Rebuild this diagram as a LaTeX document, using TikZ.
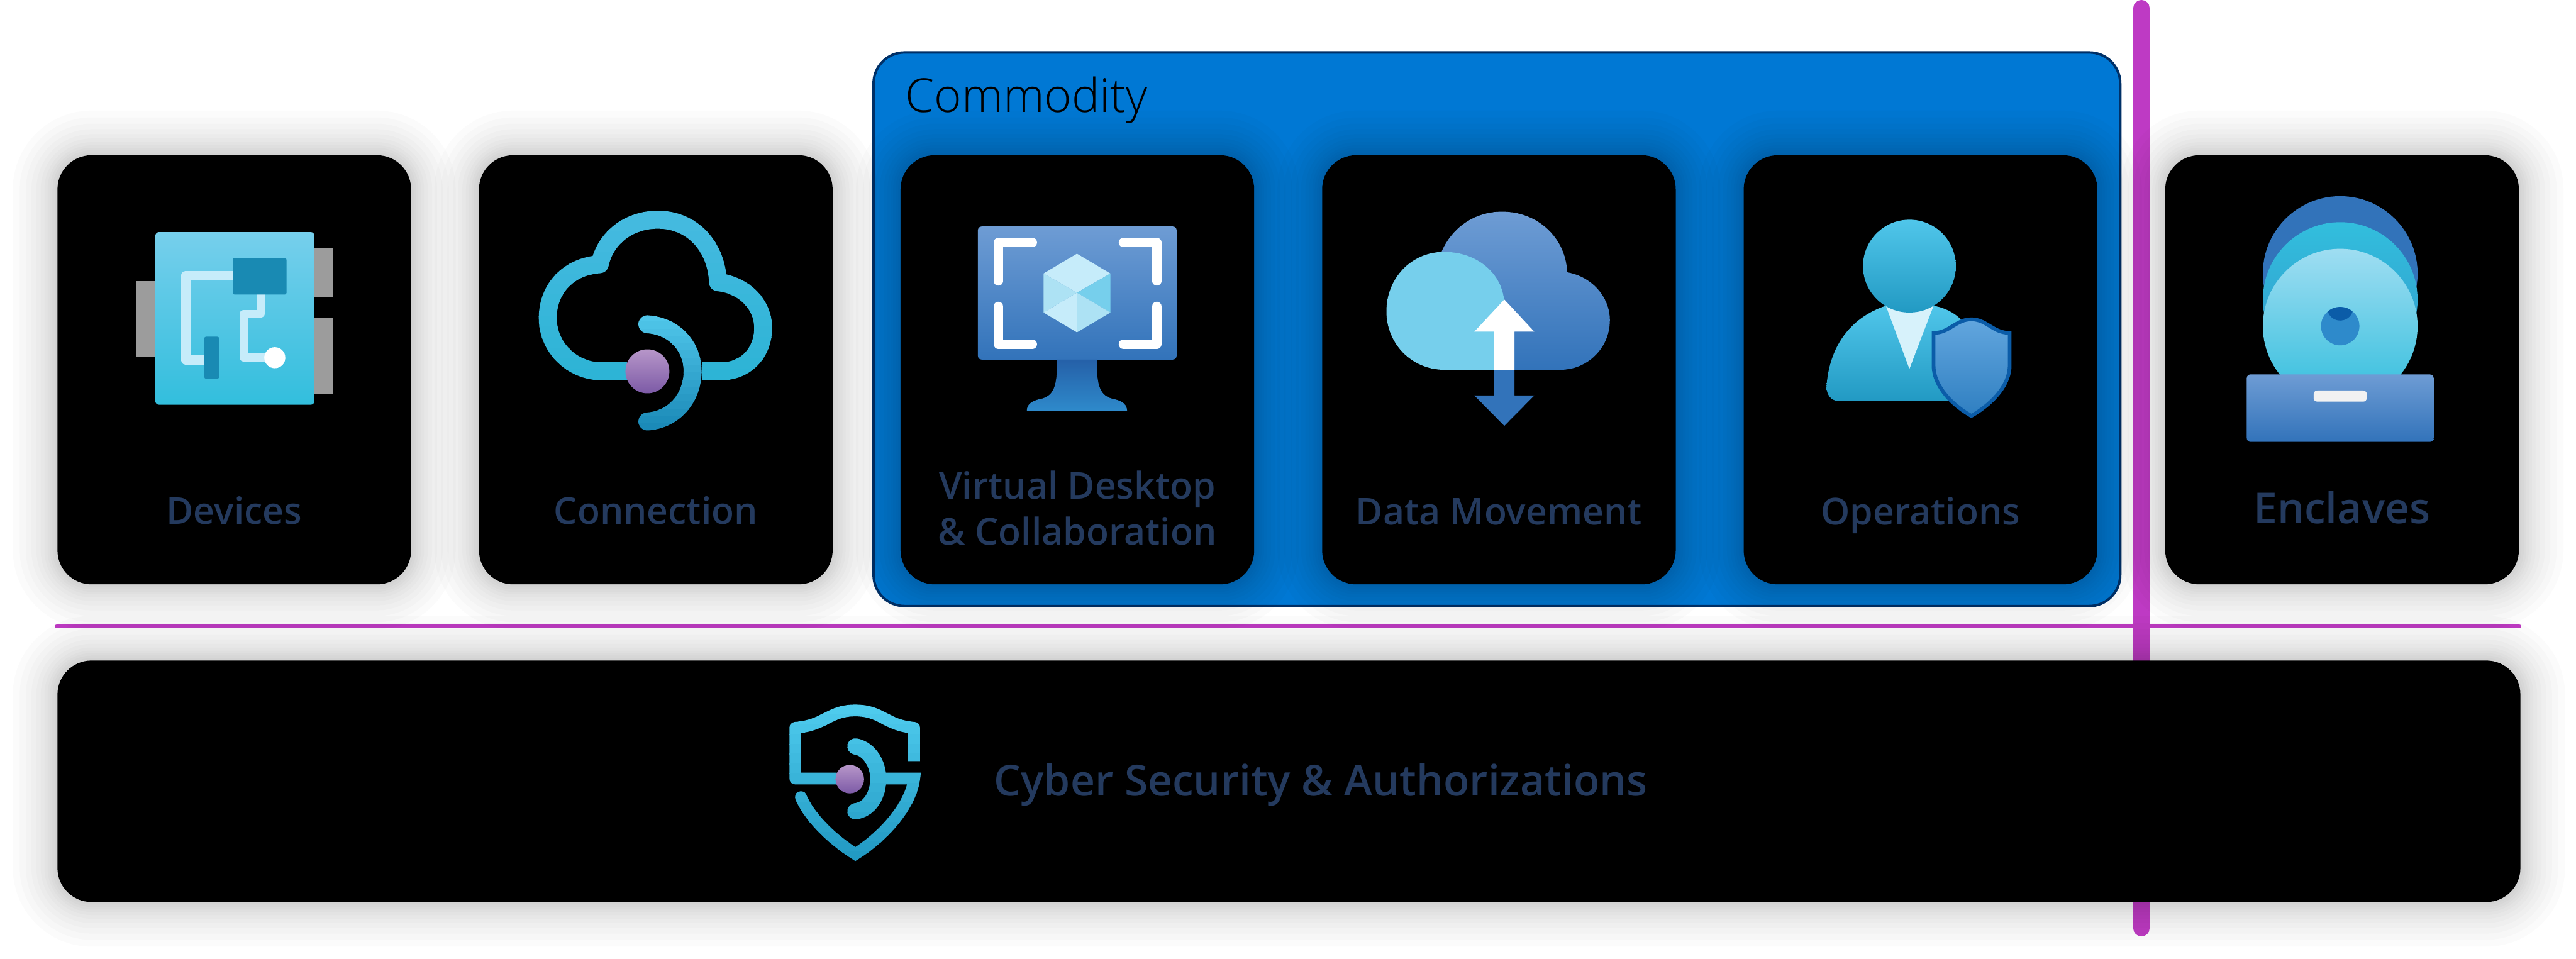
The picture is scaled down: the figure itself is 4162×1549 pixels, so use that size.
\documentclass[tikz,border=0pt]{standalone}
\usepackage{xcolor}
\usepackage{fontspec}
\usepackage{tikz}
\usetikzlibrary{positioning, calc, backgrounds}
\setmainfont{Open Sans}
\newfontfamily\heavyfont{Open Sans Semibold}
\newfontfamily\thinfont{Open Sans Light}
\definecolor{mynavy}{RGB}{36,58,94}
\definecolor{myblue}{RGB}{0,120,212}
\definecolor{myedge}{RGB}{0,48,103}
\definecolor{mymagenta}{RGB}{190,58,196}
\definecolor{mygray}{RGB}{156,156,156}
\definecolor{skytop}{RGB}{118,207,236}
\definecolor{skybot}{RGB}{50,190,221}
\definecolor{tealdark}{RGB}{25,138,179}
\definecolor{tracelt}{RGB}{198,236,250}
\definecolor{steeltop}{RGB}{110,156,212}
\definecolor{steelbot}{RGB}{50,115,186}
\definecolor{neckdark}{RGB}{37,96,168}
\definecolor{neckbot}{RGB}{46,138,203}
\definecolor{ringtop}{RGB}{80,198,234}
\definecolor{ringbot}{RGB}{27,138,184}
\definecolor{shieldlt}{RGB}{90,208,244}
\definecolor{balltop}{RGB}{183,150,201}
\definecolor{ballbot}{RGB}{124,90,166}
\definecolor{shieldtop}{RGB}{98,166,222}
\definecolor{shieldbot}{RGB}{47,127,193}
\definecolor{shieldedge}{RGB}{11,92,168}
\tikzset{
  tile/.style={rectangle, fill=black, inner sep=0pt, outer sep=0pt,
    minimum width=5.71cm, minimum height=6.93cm, rounded corners=0.55cm},
  bar/.style={rectangle, fill=black, inner sep=0pt, outer sep=0pt,
    minimum width=39.77cm, minimum height=3.9cm, rounded corners=0.55cm},
  groupbox/.style={rectangle, draw=myedge, fill=myblue, inner sep=0pt, outer sep=0pt,
    minimum width=20.13cm, minimum height=8.94cm, rounded corners=0.5cm, line width=0.04cm},
  tilelabel/.style={anchor=base, align=center, text=mynavy, inner sep=0pt,
    font=\heavyfont\fontsize{17}{21.2}\selectfont},
  biglabel/.style={anchor=base, text=mynavy, inner sep=0pt, font=\heavyfont\fontsize{19.6}{24}\selectfont},
  grouplabel/.style={anchor=base west, text=black, inner sep=0pt, font=\thinfont\fontsize{21.5}{26}\selectfont},
  shadowline/.style={draw=black, opacity=0.016, rounded corners=0.55cm},
  rule/.style={color=mymagenta, line cap=round},
  ball/.style={circle, top color=balltop, bottom color=ballbot, draw=none}
}
\newcommand{\gradstroke}[6]{%
  \foreach \i in {0,...,15}{%
    \pgfmathsetmacro{\ya}{#1+(#2-#1)*\i/16}%
    \pgfmathsetmacro{\yb}{#1+(#2-#1)*(\i+1)/16+1}%
    \pgfmathtruncatemacro{\mixval}{100-100*\i/15}%
    \begin{scope}
      \clip (0,\ya) rectangle (4162,\yb);
      \draw[color=#3!\mixval!#4, line width=#5, line join=round] #6;
    \end{scope}
  }%
}

\begin{document}
\begin{tikzpicture}[x=0.01cm, y=-0.01cm, node distance=1.097cm]
  \useasboundingbox (0,0) rectangle (4162,1549);

  \node[tile] (devices) at (378.5,597.5) {};
  \node[tile, right=of devices] (connection) {};
  \node[tile, right=of connection] (desktop) {};
  \node[tile, right=of desktop] (movement) {};
  \node[tile, right=of movement] (operations) {};
  \node[tile, right=of operations] (enclaves) {};
  \node[bar, below=1.23cm of devices.south west, anchor=north west] (security) {};

  \coordinate (vtop) at (3460,13);
  \coordinate (vbot) at (3460,1500);
  \coordinate (hleft) at (92,1012);
  \coordinate (hright) at (4070,1012);

  \begin{scope}[on background layer]
    \fill[white] (0,0) rectangle (4162,1549);
    \draw[rule, line width=0.26cm] (vtop) -- (vbot);
    \draw[rule, line width=0.07cm] (hleft) -- (hright);
    \node[groupbox] (commodity) at (2418.5,532) {};
    \foreach \n in {devices,connection,desktop,movement,operations,enclaves,security}{
      \foreach \w in {0.08,0.16,0.24,0.32,0.42,0.54,0.68,0.84,1.02,1.22,1.44}{
        \draw[shadowline, line width=\w cm] (\n.north west) rectangle (\n.south east);
      }
    }
  \end{scope}

  \node[grouplabel] (commoditylabel) at (1462,181) {Commodity};
  \node[tilelabel] (deviceslabel) at ($(devices.south)+(0,-97)$) {Devices};
  \node[tilelabel] (connectionlabel) at ($(connection.south)+(0,-97)$) {Connection};
  \node[tilelabel, anchor=center] (desktoplabel) at ($(desktop.south)+(0,-123)$) {Virtual Desktop\\\& Collaboration};
  \node[tilelabel] (movementlabel) at ($(movement.south)+(0,-96)$) {Data Movement};
  \node[tilelabel] (operationslabel) at ($(operations.south)+(0,-96)$) {Operations};
  \node[biglabel] (enclaveslabel) at ($(enclaves.south)+(0,-98)$) {Enclaves};
  \node[biglabel] (securitylabel) at (2134,1286) {Cyber Security \& Authorizations};

  \fill[mygray] (221,454) rectangle (252,576);
  \fill[mygray] (507,401) rectangle (538,481);
  \fill[mygray] (507,514) rectangle (538,637);
  \shade[top color=skytop, bottom color=skybot, rounded corners=0.06cm] (251,375) rectangle (508,654);
  \draw[tracelt, line width=0.15cm, line join=round] (380,445) -- (300,445) -- (300,582) -- (335,582);
  \draw[tracelt, line width=0.13cm, line join=round] (421,470) -- (421,507) -- (394,507) -- (394,578) -- (444,578);
  \fill[tealdark, rounded corners=0.03cm] (376,417) rectangle (463,476);
  \fill[tealdark, rounded corners=0.03cm] (330,544) rectangle (354,612);
  \fill[white] (444,578) circle (17);

  \gradstroke{339}{614}{ringtop}{skybot!80!ringbot}{0.29cm}{(1135,600) -- (1165,600) .. controls (1205,600) and (1233,570) .. (1233,530) .. controls (1233,490) and (1200,460) .. (1160,456) .. controls (1158,400) and (1120,355) .. (1063,355) .. controls (1015,355) and (978,385) .. (969,427) .. controls (920,430) and (885,465) .. (885,514) .. controls (885,562) and (925,600) .. (972,600) -- (1013,600)}
  \gradstroke{508}{696}{ringtop}{ringbot}{0.29cm}{[line cap=round] (1046,524) .. controls (1090,527) and (1119,560) .. (1119,600) .. controls (1119,642) and (1090,678) .. (1046,681)}
  \node[ball, minimum size=0.71cm] (connectionball) at (1046,600) {};

  \shade[top color=steeltop, bottom color=steelbot, rounded corners=0.06cm] (1580,366) rectangle (1901,581);
  \shade[top color=neckdark, bottom color=neckbot] (1708,581) .. controls (1708,625) and (1703,640) .. (1680,645) .. controls (1665,648) and (1659,655) .. (1659,664) -- (1821,664) .. controls (1821,655) and (1815,648) .. (1800,645) .. controls (1777,640) and (1772,625) .. (1772,581) -- cycle;
  \draw[white, line width=0.15cm, line cap=round, line join=round] (1668,392) -- (1613,392) -- (1613,454);
  \draw[white, line width=0.15cm, line cap=round, line join=round] (1815,392) -- (1869,392) -- (1869,454);
  \draw[white, line width=0.15cm, line cap=round, line join=round] (1668,556) -- (1613,556) -- (1613,495);
  \draw[white, line width=0.15cm, line cap=round, line join=round] (1815,556) -- (1869,556) -- (1869,495);
  \fill[tracelt] (1740,410) -- (1794,442) -- (1740,473) -- (1686,442) -- cycle;
  \fill[skytop] (1794,442) -- (1794,505) -- (1740,473) -- cycle;
  \fill[skytop!60!white] (1794,505) -- (1740,537) -- (1740,473) -- cycle;
  \fill[tracelt] (1740,537) -- (1686,505) -- (1740,473) -- cycle;
  \fill[skytop!60!white] (1686,505) -- (1686,442) -- (1740,473) -- cycle;

  \shade[top color=steeltop, bottom color=steelbot] (2329,407) .. controls (2345,370) and (2380,342) .. (2427,342) .. controls (2485,342) and (2530,385) .. (2532,440) .. controls (2572,447) and (2601,480) .. (2601,517.5) .. controls (2601,562) and (2565,597.5) .. (2521,597.5) -- (2333,597.5) -- cycle;
  \fill[skytop] (2333,597.5) .. controls (2280,597) and (2240,555) .. (2240,503) .. controls (2240,450) and (2280,407) .. (2333,407) .. controls (2385,407) and (2425,440) .. (2430,484) -- (2430,597.5) -- cycle;
  \fill[white] (2430.5,484) -- (2479,536) -- (2447,536) -- (2447,597.5) -- (2414,597.5) -- (2414,536) -- (2382,536) -- cycle;
  \fill[steelbot] (2430.5,688) -- (2479,639) -- (2447,639) -- (2447,597.5) -- (2414,597.5) -- (2414,639) -- (2382,639) -- cycle;

  \shade[top color=ringtop, bottom color=ringbot!70!skybot] (2971,648) .. controls (2958,648) and (2951,637) .. (2951,625) .. controls (2955,565) and (2985,515) .. (3047,494) -- (3124,494) .. controls (3145,498) and (3160,507) .. (3172,520) -- (3172,648) -- cycle;
  \fill[tracelt!70!white] (3047,494) -- (3085,596) -- (3124,494) -- cycle;
  \shade[top color=ringtop, bottom color=ringbot!70!skybot] (3085,430) circle (75);
  \shadedraw[top color=shieldtop, bottom color=shieldbot, draw=shieldedge, line width=0.06cm] (3124,538) .. controls (3150,538) and (3160,516) .. (3185,516) .. controls (3210,516) and (3220,538) .. (3247,538) -- (3247,590) .. controls (3247,625) and (3215,655) .. (3185,672) .. controls (3155,655) and (3124,625) .. (3124,590) -- cycle;

  \fill[steelbot] (3781,442) circle (125);
  \shade[top color=skybot, bottom color=steelbot!50!skybot] (3781,484) circle (125);
  \shade[top color=skytop!70!white, bottom color=skybot] (3781,527) circle (125);
  \fill[neckbot] (3781,527) circle (31);
  \begin{scope}
    \clip (3781,527) circle (31);
    \fill[shieldedge] (3781,497) circle (21);
  \end{scope}
  \shade[top color=steeltop, bottom color=steelbot, rounded corners=0.06cm] (3630,605) rectangle (3932,714);
  \fill[white!95!black, rounded corners=0.06cm] (3738,631) rectangle (3824,649);

  \gradstroke{1139}{1392}{shieldlt}{ringbot!70!skybot}{0.19cm}{(1477,1230) -- (1477,1176) .. controls (1430,1172) and (1425,1148) .. (1382,1148) .. controls (1339,1148) and (1334,1172) .. (1285,1176) -- (1285,1258) -- (1352,1258)}
  \gradstroke{1139}{1392}{shieldlt}{ringbot!70!skybot}{0.19cm}{[line cap=round, line join=miter] (1429,1258) -- (1477,1258) .. controls (1472,1300) and (1430,1350) .. (1382,1380) .. controls (1350,1360) and (1310,1325) .. (1294,1288)}
  \gradstroke{1139}{1392}{shieldlt}{ringbot!70!skybot}{0.26cm}{[line cap=round] (1382,1206) .. controls (1405,1210) and (1419,1235) .. (1419,1258) .. controls (1419,1285) and (1405,1308) .. (1382,1311)}
  \node[ball, minimum size=0.46cm] (securityball) at (1373,1259) {};
\end{tikzpicture}
\end{document}
